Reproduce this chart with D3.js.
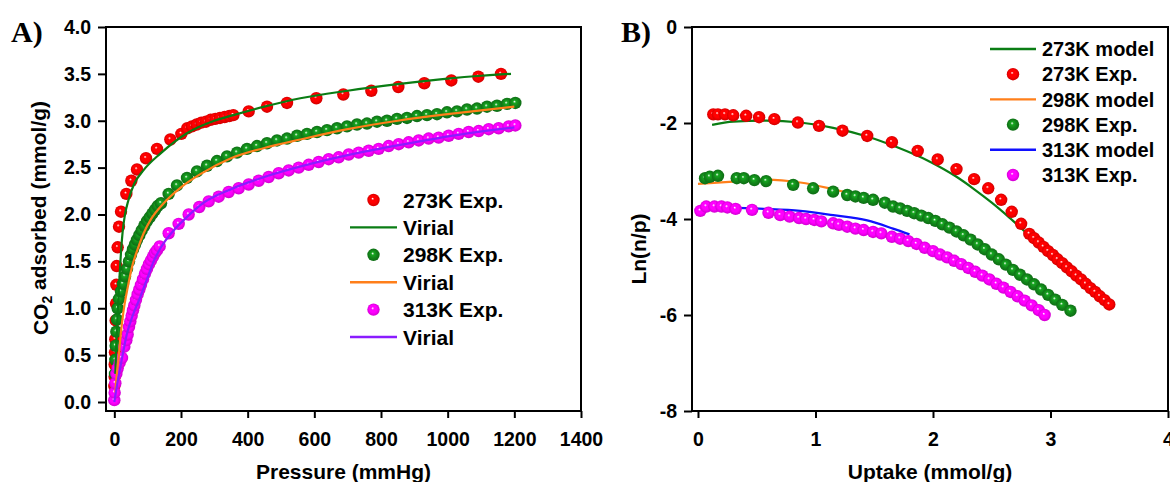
<!DOCTYPE html>
<html>
<head>
<meta charset="utf-8">
<script src="https://cdn.jsdelivr.net/npm/d3@7"></script>
<style>
  body { margin: 0; background: #fff; }
  svg text { font-family: "Liberation Sans", Arial, sans-serif; font-weight: bold; fill: #000; }
  .tick text { font-size: 19.5px; }
  .tick line { stroke: #000; stroke-width: 2; }
</style>
</head>
<body>
<svg id="chart" width="1170" height="482"></svg>
<script>
// ---- Panel A: CO2 isotherms, pressure (mmHg) vs uptake (mmol/g)
const a273P = [0, 1, 1, 2, 3, 4, 5, 6, 7, 10, 14, 20, 36, 51, 68, 95, 128, 168, 201, 219, 233, 247, 261, 275, 289, 303, 317, 331, 345, 357, 403, 458, 518, 606, 687, 771, 852, 930, 1011, 1092, 1160];
const a273Q = [0.17, 0.27, 0.4, 0.53, 0.67, 0.87, 1.05, 1.25, 1.45, 1.65, 1.87, 2.03, 2.22, 2.36, 2.48, 2.6, 2.7, 2.8, 2.86, 2.92, 2.94, 2.96, 2.98, 2.99, 3.01, 3.02, 3.03, 3.04, 3.05, 3.06, 3.1, 3.15, 3.19, 3.24, 3.28, 3.32, 3.36, 3.4, 3.43, 3.47, 3.5];

const a298P = [2, 3, 4, 6, 8, 10, 14, 20, 26, 32, 38, 44, 50, 56, 62, 68, 75, 82, 90, 98, 106, 114, 122, 130, 140, 163, 188, 218, 248, 278, 308, 338, 368, 398, 428, 458, 488, 518, 548, 578, 608, 638, 668, 698, 728, 758, 788, 818, 848, 878, 908, 938, 968, 998, 1028, 1058, 1088, 1118, 1148, 1178, 1203];
const a298Q = [0.3, 0.45, 0.6, 0.75, 0.88, 1.0, 1.1, 1.18, 1.26, 1.34, 1.42, 1.5, 1.57, 1.63, 1.68, 1.73, 1.78, 1.83, 1.88, 1.93, 1.97, 2.01, 2.05, 2.09, 2.12, 2.22, 2.31, 2.39, 2.46, 2.52, 2.57, 2.62, 2.66, 2.7, 2.73, 2.76, 2.79, 2.81, 2.84, 2.86, 2.88, 2.9, 2.92, 2.94, 2.96, 2.97, 2.99, 3.0, 3.02, 3.03, 3.05, 3.06, 3.07, 3.09, 3.1, 3.12, 3.13, 3.15, 3.16, 3.18, 3.19];

const a313P = [0, 1, 3, 6, 10, 16, 23, 30, 36, 40, 44, 48, 52, 56, 60, 65, 70, 75, 80, 86, 92, 98, 104, 110, 116, 122, 128, 136, 163, 193, 223, 255, 283, 313, 343, 373, 403, 433, 463, 493, 523, 553, 583, 613, 643, 673, 703, 733, 763, 793, 823, 853, 883, 913, 943, 973, 1003, 1033, 1063, 1093, 1123, 1153, 1183, 1203];
const a313Q = [0.02, 0.1, 0.2, 0.3, 0.36, 0.42, 0.47, 0.59, 0.66, 0.72, 0.8, 0.86, 0.92, 0.98, 1.03, 1.09, 1.15, 1.2, 1.25, 1.31, 1.37, 1.42, 1.47, 1.51, 1.55, 1.59, 1.62, 1.66, 1.8, 1.9, 2.0, 2.08, 2.14, 2.19, 2.24, 2.28, 2.32, 2.36, 2.4, 2.44, 2.47, 2.5, 2.53, 2.56, 2.59, 2.61, 2.64, 2.66, 2.68, 2.7, 2.73, 2.75, 2.77, 2.79, 2.81, 2.82, 2.84, 2.86, 2.88, 2.89, 2.91, 2.92, 2.94, 2.95];

// Virial fits
const v273P = [3, 6, 10, 15, 20, 25, 32, 42, 60, 87, 138, 219, 300, 357, 450, 558, 700, 850, 1000, 1100, 1190];
const v273Q = [0.3, 0.62, 0.95, 1.3, 1.6, 1.82, 2.0, 2.15, 2.33, 2.47, 2.65, 2.87, 3.0, 3.06, 3.15, 3.24, 3.32, 3.39, 3.45, 3.48, 3.5];
const v298P = [3, 5, 13, 20, 28, 40, 53, 70, 88, 110, 148, 200, 258, 350, 450, 558, 700, 850, 1000, 1100, 1200];
const v298Q = [0.1, 0.2, 0.48, 0.75, 0.98, 1.22, 1.44, 1.63, 1.8, 1.95, 2.12, 2.29, 2.43, 2.6, 2.71, 2.8, 2.91, 3.0, 3.07, 3.11, 3.15];
const v313P = [0, 8, 18, 28, 38, 55, 78, 100, 118, 140, 178, 220, 258, 350, 450, 600, 750, 900, 1050, 1200];
const v313Q = [0, 0.18, 0.37, 0.56, 0.73, 0.92, 1.12, 1.33, 1.5, 1.65, 1.83, 1.98, 2.1, 2.27, 2.4, 2.55, 2.67, 2.77, 2.86, 2.93];

// ---- Panel B: Ln(n/p) vs uptake (mmol/g)
const b273U = [0.13, 0.17, 0.23, 0.3, 0.41, 0.52, 0.65, 0.85, 1.03, 1.23, 1.44, 1.65, 1.87, 2.04, 2.2, 2.35, 2.47, 2.58, 2.67, 2.75, 2.82, 2.86, 2.9, 2.94, 2.98, 3.02, 3.06, 3.1, 3.14, 3.18, 3.22, 3.26, 3.3, 3.34, 3.38, 3.42, 3.46, 3.5];
const b273L = [-1.82, -1.82, -1.82, -1.84, -1.85, -1.88, -1.92, -1.99, -2.06, -2.16, -2.27, -2.4, -2.58, -2.76, -2.96, -3.17, -3.36, -3.6, -3.85, -4.1, -4.31, -4.4, -4.49, -4.58, -4.67, -4.75, -4.84, -4.92, -5.01, -5.09, -5.18, -5.26, -5.35, -5.44, -5.52, -5.61, -5.69, -5.78];
const b298U = [0.06, 0.1, 0.17, 0.33, 0.39, 0.48, 0.58, 0.81, 0.98, 1.15, 1.27, 1.34, 1.41, 1.49, 1.59, 1.66, 1.72, 1.78, 1.84, 1.9, 1.96, 2.02, 2.08, 2.14, 2.2, 2.26, 2.32, 2.38, 2.44, 2.5, 2.56, 2.62, 2.68, 2.74, 2.8, 2.86, 2.92, 2.98, 3.04, 3.1, 3.17];
const b298L = [-3.15, -3.12, -3.1, -3.15, -3.15, -3.19, -3.21, -3.29, -3.36, -3.43, -3.5, -3.53, -3.56, -3.6, -3.66, -3.74, -3.78, -3.83, -3.88, -3.93, -3.98, -4.04, -4.11, -4.18, -4.26, -4.34, -4.43, -4.53, -4.63, -4.74, -4.84, -4.95, -5.06, -5.16, -5.26, -5.36, -5.47, -5.58, -5.68, -5.79, -5.91];
const b313U = [0.02, 0.07, 0.14, 0.2, 0.25, 0.32, 0.46, 0.6, 0.7, 0.78, 0.86, 0.92, 0.99, 1.05, 1.15, 1.2, 1.27, 1.34, 1.41, 1.49, 1.56, 1.65, 1.72, 1.79, 1.86, 1.93, 2.0, 2.06, 2.12, 2.18, 2.24, 2.3, 2.36, 2.42, 2.48, 2.54, 2.6, 2.66, 2.72, 2.78, 2.84, 2.9, 2.95];
const b313L = [-3.83, -3.74, -3.74, -3.74, -3.76, -3.79, -3.81, -3.87, -3.92, -3.95, -3.98, -4.0, -4.02, -4.05, -4.09, -4.12, -4.16, -4.2, -4.23, -4.27, -4.3, -4.37, -4.41, -4.46, -4.52, -4.6, -4.67, -4.74, -4.8, -4.87, -4.94, -5.02, -5.1, -5.18, -5.26, -5.35, -5.43, -5.52, -5.61, -5.7, -5.8, -5.9, -6.0];

// model lines
const m273U = [0.12, 0.3, 0.58, 0.87, 1.15, 1.44, 1.69, 1.97, 2.2, 2.34, 2.5, 2.65, 2.8, 2.9];
const m273L = [-2.04, -1.97, -1.95, -1.99, -2.1, -2.28, -2.5, -2.8, -3.12, -3.36, -3.66, -3.97, -4.3, -4.52];
const m298U = [0, 0.3, 0.58, 0.87, 1.15, 1.4, 1.7, 2.0, 2.3];
const m298L = [-3.27, -3.22, -3.18, -3.24, -3.38, -3.53, -3.75, -4.02, -4.35];
const m313U = [0, 0.3, 0.58, 0.87, 1.15, 1.44, 1.66, 1.8];
const m313L = [-3.85, -3.77, -3.79, -3.83, -3.92, -4.03, -4.2, -4.32];

const aXTicks = [0, 200, 400, 600, 800, 1000, 1200, 1400];
const aYTicks = [0, 0.5, 1, 1.5, 2, 2.5, 3, 3.5, 4];
const bXTicks = [0, 1, 2, 3, 4];
const bYTicks = [0, -2, -4, -6, -8];

const legendA = ['273K Exp.', 'Virial', '298K Exp.', 'Virial', '313K Exp.', 'Virial'];
const legendB = ['273K model', '273K Exp.', '298K model', '298K Exp.', '313K model', '313K Exp.'];

const RED = '#ff0000', GREEN = '#12861a', MAGENTA = '#ff00ff';
const LGREEN = '#0a7d14', ORANGE = '#ff7f1a', PURPLE = '#8a1cff', BLUE = '#1010ff';

const svg = d3.select('#chart');
const defs = svg.append('defs');

function addBall(id, base) {
  const c = d3.color(base);
  const gr = defs.append('radialGradient').attr('id', id)
    .attr('cx', '50%').attr('cy', '50%').attr('r', '55%')
    .attr('fx', '42%').attr('fy', '38%');
  gr.append('stop').attr('offset', '0%').attr('stop-color', '#fff');
  gr.append('stop').attr('offset', '22%').attr('stop-color', c.brighter(0.6));
  gr.append('stop').attr('offset', '55%').attr('stop-color', base);
  gr.append('stop').attr('offset', '100%').attr('stop-color', c.darker(0.7));
}
addBall('ballR', RED);
addBall('ballG', GREEN);
addBall('ballM', MAGENTA);

function zip(xs, ys) { return xs.map((v, i) => ({ x: v, y: ys[i] })); }

function drawPanel(cfg) {
  const x = d3.scaleLinear().domain(cfg.xDomain).range([cfg.left, cfg.right]);
  const y = d3.scaleLinear().domain(cfg.yDomain).range([cfg.bottom, cfg.top]);
  const g = svg.append('g');

  const line = d3.line().x(d => x(d.x)).y(d => y(d.y)).curve(d3.curveMonotoneX);

  function drawLines() {
    cfg.lines.forEach(s => {
      g.append('path').datum(zip(s.xs, s.ys))
        .attr('d', line).attr('fill', 'none')
        .attr('stroke', s.color).attr('stroke-width', 2.2);
    });
  }
  if (!cfg.linesOnTop) drawLines();
  cfg.dots.forEach(s => {
    g.append('g').selectAll('circle').data(zip(s.xs, s.ys)).join('circle')
      .attr('cx', d => x(d.x)).attr('cy', d => y(d.y)).attr('r', 6.2)
      .attr('fill', 'url(#' + s.ball + ')');
  });
  if (cfg.linesOnTop) drawLines();

  // frame
  g.append('rect').attr('x', cfg.left).attr('y', cfg.top)
    .attr('width', cfg.right - cfg.left).attr('height', cfg.bottom - cfg.top)
    .attr('fill', 'none').attr('stroke', '#000').attr('stroke-width', 2);

  g.append('g').attr('transform', 'translate(0,' + cfg.bottom + ')')
    .call(d3.axisBottom(x).tickValues(cfg.xTicks).tickSize(7).tickPadding(14).tickSizeOuter(0).tickFormat(d => String(d)))
    .call(a => a.select('.domain').remove());
  g.append('g').attr('transform', 'translate(' + cfg.left + ',0)')
    .call(d3.axisLeft(y).tickValues(cfg.yTicks).tickSize(8).tickPadding(7).tickSizeOuter(0).tickFormat(cfg.yFormat))
    .call(a => a.select('.domain').remove());

  // axis titles
  g.append('text').attr('x', (cfg.left + cfg.right) / 2).attr('y', 479)
    .attr('text-anchor', 'middle').style('font-size', '21px').text(cfg.xTitle);
  const yt = g.append('text')
    .attr('transform', 'translate(' + cfg.yTitleX + ',' + cfg.yTitleY + ') rotate(-90)')
    .attr('text-anchor', 'middle').style('font-size', '21px');
  cfg.yTitle(yt);

  // panel letter
  g.append('text').attr('x', cfg.letterX).attr('y', 42)
    .style('font-family', '"Liberation Serif", "Times New Roman", serif')
    .style('font-size', '30px').text(cfg.letter);

  // legend
  cfg.legend.items.forEach((it, i) => {
    const cy = cfg.legend.y0 + i * cfg.legend.dy;
    const lg = cfg.legend;
    if (it.type === 'line') {
      g.append('line').attr('x1', lg.lineX1).attr('x2', lg.lineX2).attr('y1', cy).attr('y2', cy)
        .attr('stroke', it.color).attr('stroke-width', 2.4);
    } else {
      g.append('circle').attr('cx', (lg.lineX1 + lg.lineX2) / 2).attr('cy', cy).attr('r', 6.2)
        .attr('fill', 'url(#' + it.ball + ')');
    }
    g.append('text').attr('x', lg.textX).attr('y', cy).attr('dy', '0.36em')
      .style('font-size', lg.fontSize).text(it.label);
  });
}

drawPanel({
  left: 106, right: 581, top: 27, bottom: 411,
  xDomain: [-25, 1400], yDomain: [-0.096, 4],
  xTicks: aXTicks, yTicks: aYTicks, yFormat: d3.format('.1f'),
  linesOnTop: true,
  dots: [
    { xs: a273P, ys: a273Q, ball: 'ballR' },
    { xs: a298P, ys: a298Q, ball: 'ballG' },
    { xs: a313P, ys: a313Q, ball: 'ballM' }
  ],
  lines: [
    { xs: v273P, ys: v273Q, color: LGREEN },
    { xs: v298P, ys: v298Q, color: ORANGE },
    { xs: v313P, ys: v313Q, color: PURPLE }
  ],
  xTitle: 'Pressure (mmHg)',
  yTitleX: 48, yTitleY: 218,
  yTitle: t => {
    t.append('tspan').text('CO');
    t.append('tspan').attr('dy', '0.3em').style('font-size', '14px').text('2');
    t.append('tspan').attr('dy', '-0.3em').text(' adsorbed (mmol/g)');
  },
  letter: 'A)', letterX: 11,
  legend: {
    y0: 200, dy: 27.4, lineX1: 350, lineX2: 397, textX: 403, fontSize: '21px',
    items: [
      { label: legendA[0], type: 'dot', ball: 'ballR' },
      { label: legendA[1], type: 'line', color: LGREEN },
      { label: legendA[2], type: 'dot', ball: 'ballG' },
      { label: legendA[3], type: 'line', color: ORANGE },
      { label: legendA[4], type: 'dot', ball: 'ballM' },
      { label: legendA[5], type: 'line', color: PURPLE }
    ]
  }
});

drawPanel({
  left: 692, right: 1168, top: 27, bottom: 411,
  xDomain: [-0.051, 4], yDomain: [-8, 0],
  xTicks: bXTicks, yTicks: bYTicks, yFormat: d => String(d),
  linesOnTop: false,
  dots: [
    { xs: b273U, ys: b273L, ball: 'ballR' },
    { xs: b298U, ys: b298L, ball: 'ballG' },
    { xs: b313U, ys: b313L, ball: 'ballM' }
  ],
  lines: [
    { xs: m273U, ys: m273L, color: LGREEN },
    { xs: m298U, ys: m298L, color: ORANGE },
    { xs: m313U, ys: m313L, color: BLUE }
  ],
  xTitle: 'Uptake (mmol/g)',
  yTitleX: 646, yTitleY: 249,
  yTitle: t => t.text('Ln(n/p)'),
  letter: 'B)', letterX: 621,
  legend: {
    y0: 49, dy: 25.2, lineX1: 990, lineX2: 1036, textX: 1042, fontSize: '20px',
    items: [
      { label: legendB[0], type: 'line', color: LGREEN },
      { label: legendB[1], type: 'dot', ball: 'ballR' },
      { label: legendB[2], type: 'line', color: ORANGE },
      { label: legendB[3], type: 'dot', ball: 'ballG' },
      { label: legendB[4], type: 'line', color: BLUE },
      { label: legendB[5], type: 'dot', ball: 'ballM' }
    ]
  }
});
</script>
</body>
</html>
